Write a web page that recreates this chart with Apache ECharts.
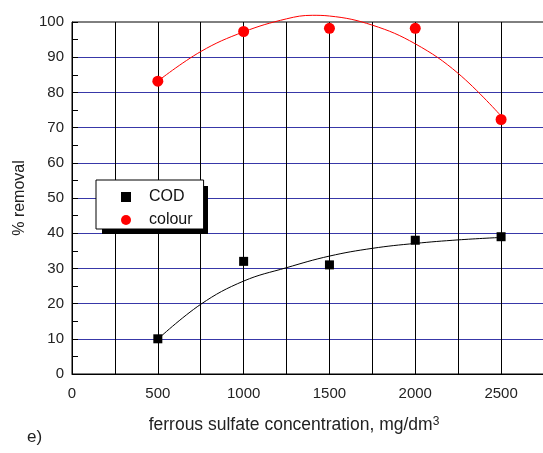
<!DOCTYPE html>
<html>
<head>
<meta charset="utf-8">
<script src="https://cdn.jsdelivr.net/npm/echarts@6/dist/echarts.min.js"></script>
<style>
  html, body { margin: 0; padding: 0; background: #fff; }
  #chart { width: 543px; height: 453px; }
</style>
</head>
<body>
<div id="chart"></div>
<script>
// measured points
const doses = [500, 1000, 1500, 2000, 2500]
const codValues = [10, 32, 31, 38, 39]
const colourValues = [83.2, 97.3, 98.2, 98.2, 72.3]

// fitted curves
const codFitX = [500, 750, 1000, 1250, 1500, 1750, 2000, 2250, 2500]
const codFitY = [9.9, 19.8, 26.4, 30.2, 33.5, 35.7, 37.1, 38.1, 38.8]
const colourFitX = [500, 750, 1000, 1250, 1400, 1500, 1750, 2000, 2250, 2500]
const colourFitY = [83.2, 91.6, 97.2, 100.9, 101.9, 101.7, 99.1, 93.8, 85.4, 73.3]

const font = 'Liberation Sans, Arial, sans-serif'
const pair = (xs, ys) => xs.map((x, i) => [x, ys[i]])

const chart = echarts.init(document.getElementById('chart'), null, { renderer: 'canvas' })

chart.setOption({
  animation: false,
  backgroundColor: '#fff',
  textStyle: { fontFamily: font },
  grid: {
    left: 72, right: -1, top: 22, bottom: 79,
    outerBoundsMode: 'none',
    containLabel: false,
    show: true, borderColor: '#000', borderWidth: 1, backgroundColor: 'transparent'
  },
  xAxis: {
    type: 'value',
    min: 0, max: 2750, interval: 500,
    name: 'ferrous sulfate concentration, mg/dm{sup|3}',
    nameLocation: 'middle',
    nameGap: 42,
    nameTextStyle: {
      fontFamily: font, fontSize: 17.5, color: '#222', padding: [0, 28, 0, 0],
      rich: { sup: { fontFamily: font, fontSize: 12, color: '#222', verticalAlign: 'top', lineHeight: 19 } }
    },
    axisLine: { lineStyle: { color: '#000', width: 1 } },
    axisTick: { show: false },
    axisLabel: {
      fontFamily: font, fontSize: 15, color: '#222', margin: 12,
      showMaxLabel: false, formatter: v => String(v)
    },
    splitLine: { show: true, lineStyle: { color: '#000', width: 1 } },
    minorTick: { show: false, splitNumber: 2 },
    minorSplitLine: { show: true, lineStyle: { color: '#000', width: 1 } }
  },
  yAxis: {
    type: 'value',
    min: 0, max: 100, interval: 10,
    name: '% removal',
    nameLocation: 'middle',
    nameGap: 42,
    nameTextStyle: { fontFamily: font, fontSize: 16, color: '#222' },
    axisLine: { lineStyle: { color: '#000', width: 1 } },
    axisTick: { show: true, inside: true, length: 6, lineStyle: { color: '#000' } },
    minorTick: { show: true, splitNumber: 2, length: 6, lineStyle: { color: '#000' } },
    axisLabel: { fontFamily: font, fontSize: 15, color: '#222', margin: 8 },
    splitLine: { show: true, showMinLine: false, showMaxLine: false, lineStyle: { color: '#3838a8', width: 1 } }
  },
  legend: {
    orient: 'vertical',
    left: 96, top: 180,
    z: 10,
    data: [{ name: 'COD', icon: 'rect' }, { name: 'colour', icon: 'circle' }],
    itemWidth: 10, itemHeight: 10, itemGap: 7,
    padding: [9, 11, 1, 25],
    backgroundColor: '#fff',
    borderColor: '#000', borderWidth: 1,
    textStyle: { fontFamily: font, fontSize: 16, color: '#111', padding: [0, 0, 0, 13] },
    itemStyle: { opacity: 1 },
    selectedMode: false
  },
  graphic: [
    // drop shadow behind the legend box
    { type: 'rect', left: 102, top: 186, z: 9, shape: { width: 106, height: 48 }, style: { fill: '#000' } },
    { type: 'text', left: 27, top: 429, style: { text: 'e)', fontFamily: font, fontSize: 17, fill: '#222' } }
  ],
  series: [
    {
      name: 'codFit', type: 'line', data: pair(codFitX, codFitY),
      smooth: 0.4, showSymbol: false, symbol: 'none', clip: false,
      lineStyle: { color: '#000', width: 1 }, z: 3
    },
    {
      name: 'colourFit', type: 'line', data: pair(colourFitX, colourFitY),
      smooth: 0.4, showSymbol: false, symbol: 'none', clip: false,
      lineStyle: { color: '#ff0000', width: 1 }, z: 3
    },
    {
      name: 'COD', type: 'scatter', data: pair(doses, codValues),
      symbol: 'rect', symbolSize: 9, itemStyle: { color: '#000', opacity: 1 }, z: 5
    },
    {
      name: 'colour', type: 'scatter', data: pair(doses, colourValues),
      symbol: 'circle', symbolSize: 11, itemStyle: { color: '#ff0000', opacity: 1 }, z: 5, clip: false
    }
  ]
})
</script>
</body>
</html>
